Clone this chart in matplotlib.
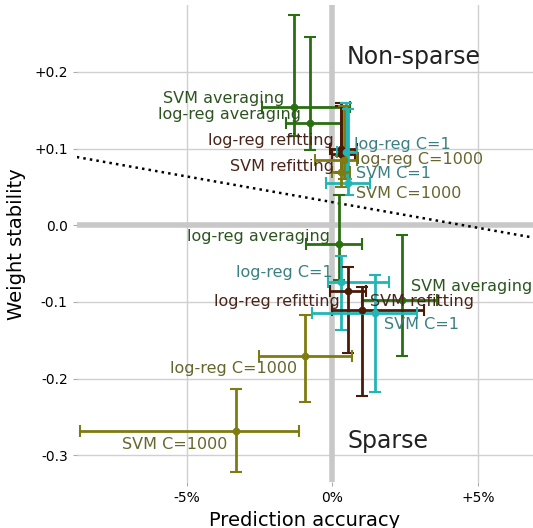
import matplotlib.pyplot as plt
import numpy as np

# label, x (% accuracy), xlo, xhi, y (stability), ylo, yhi, kind
names = ['SVM averaging', 'log-reg averaging', 'log-reg refitting', 'SVM refitting',
         'log-reg C=1', 'log-reg C=1000', 'SVM C=1', 'SVM C=1000',
         'log-reg averaging', 'log-reg C=1', 'log-reg refitting', 'SVM averaging',
         'SVM refitting', 'SVM C=1', 'log-reg C=1000', 'SVM C=1000']
kind = ['avg', 'avg', 'ref', 'ref', 'c1', 'c1000', 'c1', 'c1000',
        'avg', 'c1', 'ref', 'avg', 'ref', 'c1', 'c1000', 'c1000']
x = [-1.34, -0.79, 0.31, 0.31, 0.48, 0.38, 0.52, 0.30,
     0.21, 0.31, 0.52, 2.38, 1.03, 1.45, -0.93, -3.31]
x_lo = [-2.41, -1.60, -0.10, -0.03, 0.14, -0.59, -0.21, 0.0,
        -0.90, -0.14, -0.10, 1.03, -0.03, -0.72, -2.52, -8.70]
x_hi = [0.59, 0.31, 0.86, 0.76, 0.86, 0.83, 1.28, 0.6,
        1.03, 1.93, 1.17, 3.60, 3.14, 2.90, 0.66, -1.14]
y = [0.154, 0.134, 0.100, 0.093, 0.095, 0.085, 0.055, 0.070,
     -0.025, -0.074, -0.086, -0.098, -0.111, -0.115, -0.171, -0.269]
y_lo = [0.117, 0.098, 0.069, 0.068, 0.060, 0.060, 0.039, 0.05,
        -0.072, -0.137, -0.166, -0.170, -0.223, -0.218, -0.231, -0.322]
y_hi = [0.274, 0.246, 0.159, 0.155, 0.159, 0.155, 0.152, 0.09,
        0.039, -0.040, -0.055, -0.013, -0.080, -0.065, -0.117, -0.213]

# label anchor positions (x %, y) and alignment
lab_x = [-1.65, -1.07, 0.05, 0.05, 0.75, 0.82, 0.82, 0.82,
         -0.1, 0.0, 0.24, 2.7, 1.3, 1.76, -1.2, -3.6]
lab_y = [0.166, 0.144, 0.110, 0.077, 0.105, 0.086, 0.068, 0.041,
         -0.014, -0.061, -0.099, -0.080, -0.100, -0.130, -0.187, -0.286]
lab_ha = ['right', 'right', 'right', 'right', 'left', 'left', 'left', 'left',
          'right', 'right', 'right', 'left', 'left', 'left', 'right', 'right']

line_col = {'avg': '#2a6e12', 'ref': '#4a1c08', 'c1': '#22b5b5', 'c1000': '#7c7c12'}
text_col = {'avg': '#2c5520', 'ref': '#4a2418', 'c1': '#3a8080', 'c1000': '#66662e'}

sep_x = [-8.8, 6.9]
sep_y = [0.089, -0.016]

fig = plt.figure(figsize=(5.33, 5.28), dpi=100)
ax = fig.add_axes([0.144, 0.087, 0.856, 0.903])

for i in range(len(x)):
    c = line_col[kind[i]]
    ax.errorbar(x[i], y[i],
                xerr=[[x[i] - x_lo[i]], [x_hi[i] - x[i]]],
                yerr=[[y[i] - y_lo[i]], [y_hi[i] - y[i]]],
                fmt='o', color=c, ms=4.5, lw=2, capsize=4, capthick=1.5, zorder=3)
    ax.text(lab_x[i], lab_y[i], names[i], color=text_col[kind[i]], fontsize=11.5,
            ha=lab_ha[i], va='center', zorder=4)

ax.plot(sep_x, sep_y, ls=':', color='black', lw=1.8, zorder=2)
ax.axvline(0, color='#c8c8c8', lw=4, zorder=1)
ax.axhline(0, color='#c8c8c8', lw=4, zorder=1)

ax.text(0.5, 0.22, 'Non-sparse', fontsize=17, color='#222222', va='center')
ax.text(0.5, -0.282, 'Sparse', fontsize=17, color='#222222', va='center')

ax.set_xlim(-8.8, 6.9)
ax.set_ylim(-0.335, 0.287)
ax.set_xticks([-5, 0, 5])
ax.set_xticklabels(['-5%', '0%', '+5%'])
ax.set_yticks([0.2, 0.1, 0.0, -0.1, -0.2, -0.3])
ax.set_yticklabels(['+0.2', '+0.1', '0.0', '-0.1', '-0.2', '-0.3'])
ax.grid(True, color='#d0d0d0', lw=1, zorder=0)
ax.set_axisbelow(True)
for s in ax.spines.values():
    s.set_visible(False)
ax.tick_params(length=3, color='#aaaaaa', labelsize=10)
ax.set_xlabel('Prediction accuracy', fontsize=14, labelpad=4)
ax.set_ylabel('Weight stability', fontsize=14, labelpad=6)

fig.savefig('out.png', dpi=100)
